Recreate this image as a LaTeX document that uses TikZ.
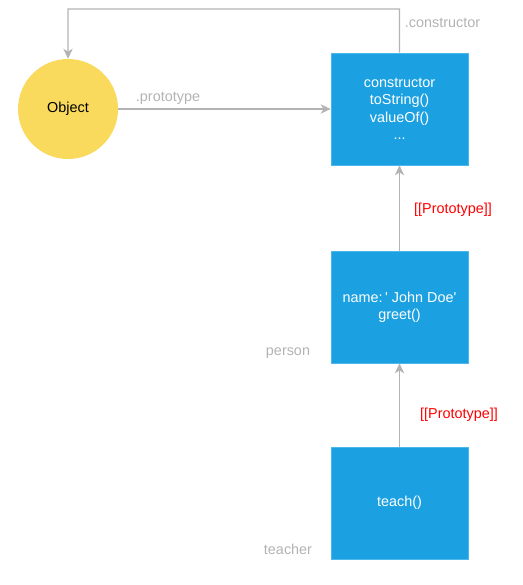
\documentclass[tikz,border=0pt]{standalone}
\usepackage{fontspec}
\setmainfont{Liberation Sans}
\usetikzlibrary{positioning,arrows.meta}
\definecolor{boxblue}{HTML}{1BA1E2}
\definecolor{boxedge}{HTML}{4DB6EA}
\definecolor{objyellow}{HTML}{F9DA5C}
\definecolor{linegray}{HTML}{B3B3B3}
\definecolor{protored}{HTML}{FF0000}

\begin{document}
\begin{tikzpicture}[x=0.75pt,y=-0.75pt,node distance=147.5pt,on grid,font=\fontsize{10.8pt}{13pt}\selectfont]
\tikzset{
  objbox/.style={rectangle,fill=boxblue,draw=boxedge,line width=0.5pt,text=white,minimum width=102.75pt,minimum height=84pt,inner sep=0pt,align=center},
  objcircle/.style={circle,fill=objyellow,draw=none,minimum size=75pt,inner sep=0pt},
  link/.style={draw=linegray,line width=0.9pt,-{Stealth[length=7.5pt,width=7pt,inset=2.2pt]}},
  graylabel/.style={text=linegray},
  redlabel/.style={text=protored}
}
\useasboundingbox (0,0) rectangle (522,585);
\node[objbox]		(objproto)		at (399.5,109)		{constructor\\toString()\\valueOf()\\...};
\node[objcircle]	(object)		[left=248.6pt of objproto]	{Object};
\node[objbox]		(person)		[below=148.5pt of objproto]	{name:\,\textquotesingle\ John Doe\textquotesingle\\greet()};
\node[objbox]		(teacher)		[below=147pt of person]	{teach()};
\coordinate			(ctorup)		at (399.5,9);
\coordinate			(ctorleft)		at (68,9);

\path[link] (object) -- (objproto);
\path[link] (objproto.north) -- (ctorup) -- (ctorleft) -- (object.north);
\path[link] (person) -- (objproto);
\path[link] (teacher) -- (person);

\node[graylabel]	(protolbl)		at (168,98.5)		{.prototype};
\node[graylabel]	(ctorlbl)		at (442.5,23)		{.constructor};
\node[redlabel]		(pprotolbl)		at (453,210)		{[[Prototype]]};
\node[redlabel]		(tprotolbl)		at (459,415)		{[[Prototype]]};
\node[graylabel]	(personlbl)		at (288,353)		{person};
\node[graylabel]	(teacherlbl)	at (288,549)		{teacher};
\end{tikzpicture}
\end{document}
